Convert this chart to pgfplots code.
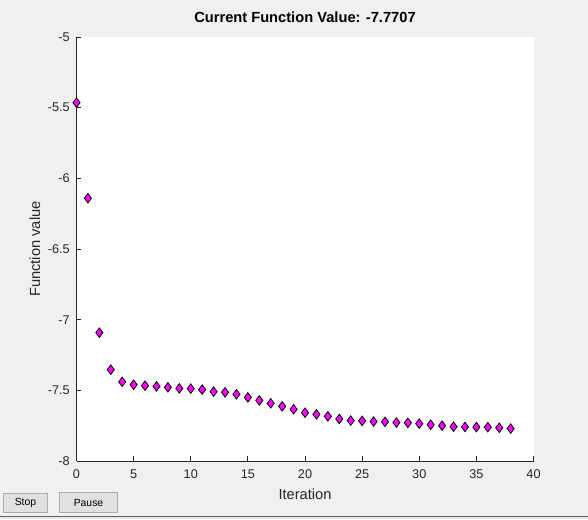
\documentclass[border=0pt]{standalone}
\usepackage{pgfplots}
\pgfplotsset{compat=1.18}
\usepackage{fontspec}
\setmainfont{Liberation Sans}
\definecolor{bggray}{RGB}{240,240,240}
\definecolor{axgray}{RGB}{38,38,38}
\definecolor{btnfill}{RGB}{225,225,225}
\definecolor{btnedge}{RGB}{173,173,173}
\definecolor{mag}{RGB}{255,0,255}
\begin{document}
\begin{tikzpicture}[x=0.75pt,y=0.75pt]
\fill[bggray] (0,0) rectangle (588,519);
\path[use as bounding box] (0,0) rectangle (588,519);
\begin{axis}[
  at={(57.375pt,43.5pt)}, anchor=south west,
  scale only axis, width=342.75pt, height=318pt,
  xmin=0, xmax=40, ymin=-8, ymax=-5,
  xtick={0,5,10,15,20,25,30,35,40},
  ytick={-8,-7.5,-7,-6.5,-6,-5.5,-5},
  axis x line*=bottom, axis y line*=left,
  axis line style={color=axgray, line width=0.75pt},
  tick style={color=axgray, line width=0.75pt},
  major tick length=3.4pt, tick align=inside,
  axis background/.style={fill=white},
  /pgf/number format/assume math mode=true,
  ticklabel style={font=\fontsize{9.5}{11}\selectfont, text=axgray},
  xticklabel style={anchor=north, inner sep=0pt, yshift=-6.5pt},
  yticklabel style={anchor=east, inner sep=0pt, xshift=-4.9pt},
  title={Current Function Value: -7.7707},
  title style={font=\fontsize{11}{13}\selectfont\bfseries, at={(axis description cs:0.5,1.0283)}, anchor=center},
  xlabel={Iteration},
  xlabel style={font=\fontsize{11}{13}\selectfont, text=axgray, at={(axis description cs:0.5,-0.0778)}, anchor=center},
  ylabel={Function value},
  ylabel style={font=\fontsize{11}{13}\selectfont, text=axgray, at={(axis description cs:-0.0908,0.5)}, anchor=center},
]
\addplot[only marks, mark=diamond*, mark size=3.56pt,
  mark options={fill=mag, draw=black, line width=0.6pt}]
coordinates {
(0,-5.465) (1,-6.141) (2,-7.092) (3,-7.354) (4,-7.440) (5,-7.460)
(6,-7.467) (7,-7.472) (8,-7.479) (9,-7.486) (10,-7.488) (11,-7.495)
(12,-7.509) (13,-7.514) (14,-7.528) (15,-7.550) (16,-7.571) (17,-7.592)
(18,-7.613) (19,-7.634) (20,-7.658) (21,-7.670) (22,-7.684) (23,-7.703)
(24,-7.714) (25,-7.716) (26,-7.721) (27,-7.723) (28,-7.728) (29,-7.730)
(30,-7.736) (31,-7.743) (32,-7.750) (33,-7.757) (34,-7.759) (35,-7.760)
(36,-7.761) (37,-7.765) (38,-7.7707)
};
\end{axis}
% buttons
\draw[btnedge, fill=btnfill, line width=0.75pt] (3.5,26) rectangle (47.5,7);
\node[font=\fontsize{7.8}{9}\selectfont] at (25.5,16) {Stop};
\draw[btnedge, fill=btnfill, line width=0.75pt] (59.5,27) rectangle (117.5,7);
\node[font=\fontsize{7.8}{9}\selectfont] at (88.5,16.5) {Pause};
% bottom strip
\fill[RGB/.style={}, color={rgb,255:red,232;green,232;blue,232}] (0,0) rectangle (588,2);
\draw[color={rgb,255:red,100;green,100;blue,100}, line width=0.75pt] (0,2.3) -- (588,2.3);
\end{tikzpicture}
\end{document}
